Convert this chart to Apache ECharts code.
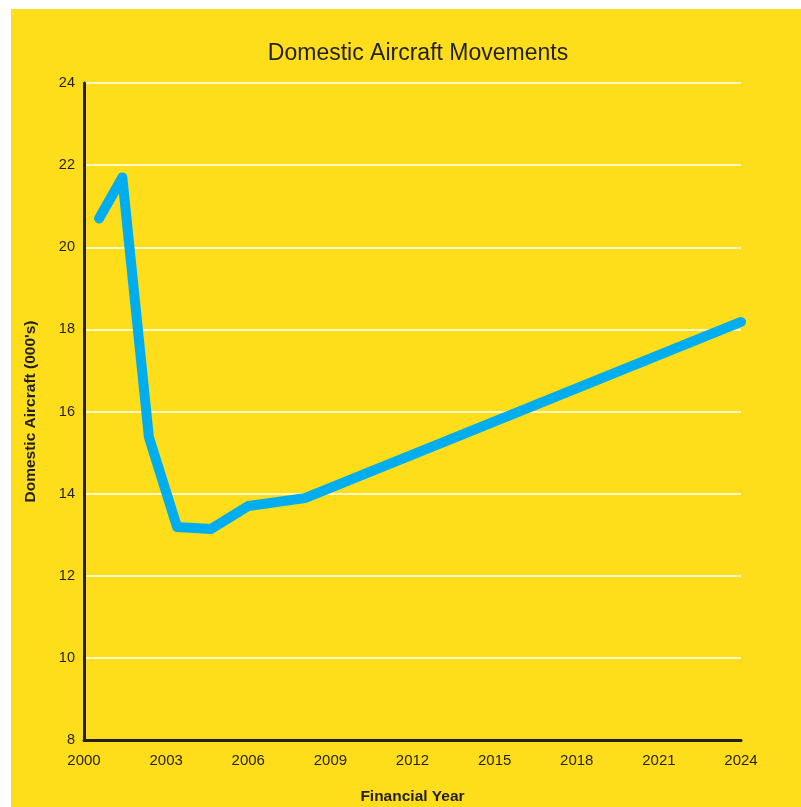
<!DOCTYPE html>
<html>
<head>
<meta charset="utf-8">
<script src="https://cdn.jsdelivr.net/npm/echarts@6/dist/echarts.min.js"></script>
<style>
  html, body { margin: 0; padding: 0; background: #ffffff; }
  #chart { width: 801px; height: 807px; }
</style>
</head>
<body>
<div id="chart"></div>
<script>
// financial year positions (mid-year) and movements in thousands
var years = [2000.55, 2001.4, 2002.37, 2003.4, 2004.64, 2006.0, 2008.07, 2024.0];
var movements = [20.7, 21.7, 15.38, 13.19, 13.14, 13.7, 13.89, 18.18];

var yellow = '#FEDE1B';
var ink = '#231F20';
var font = 'Liberation Sans, Arial, sans-serif';

var chart = echarts.init(document.getElementById('chart'));

var points = years.map(function (y, i) { return [y, movements[i]]; });

var option = {
  backgroundColor: '#ffffff',
  animation: false,
  graphic: [{
    type: 'rect',
    left: 11, top: 9,
    shape: { width: 790, height: 798 },
    style: { fill: yellow },
    z: -10
  }],
  title: {
    text: 'Domestic Aircraft Movements',
    left: 413,
    top: 37,
    textAlign: 'center',
    textStyle: { fontFamily: font, fontSize: 23, fontWeight: 'normal', color: ink }
  },
  grid: { left: 84, right: 60, top: 83, bottom: 67, outerBoundsMode: 'none', containLabel: false },
  xAxis: {
    type: 'value',
    min: 2000,
    max: 2024,
    interval: 3,
    name: 'Financial Year',
    nameLocation: 'middle',
    nameGap: 49,
    nameTextStyle: { fontFamily: font, fontSize: 15.5, fontWeight: 'bold', color: ink },
    axisLine: { lineStyle: { color: ink, width: 3 } },
    axisTick: { show: false },
    splitLine: { show: false },
    axisLabel: {
      margin: 13,
      fontFamily: font, fontSize: 15, color: ink,
      formatter: function (v) { return String(v); }
    }
  },
  yAxis: {
    type: 'value',
    min: 8,
    max: 24,
    interval: 2,
    name: "Domestic Aircraft (000's)",
    nameLocation: 'middle',
    nameGap: 45,
    nameRotate: 90,
    nameTextStyle: { fontFamily: font, fontSize: 15.5, fontWeight: 'bold', color: ink },
    axisLine: { show: true, lineStyle: { color: ink, width: 3 } },
    axisTick: { show: false },
    splitLine: { lineStyle: { color: '#ffffff', width: 1.5 } },
    axisLabel: { margin: 9, fontFamily: font, fontSize: 14.5, color: ink }
  },
  series: [{
    type: 'line',
    data: points,
    symbol: 'none',
    lineStyle: { color: '#00AEEF', width: 10, cap: 'round', join: 'round' }
  }]
};

chart.setOption(option);
</script>
</body>
</html>
